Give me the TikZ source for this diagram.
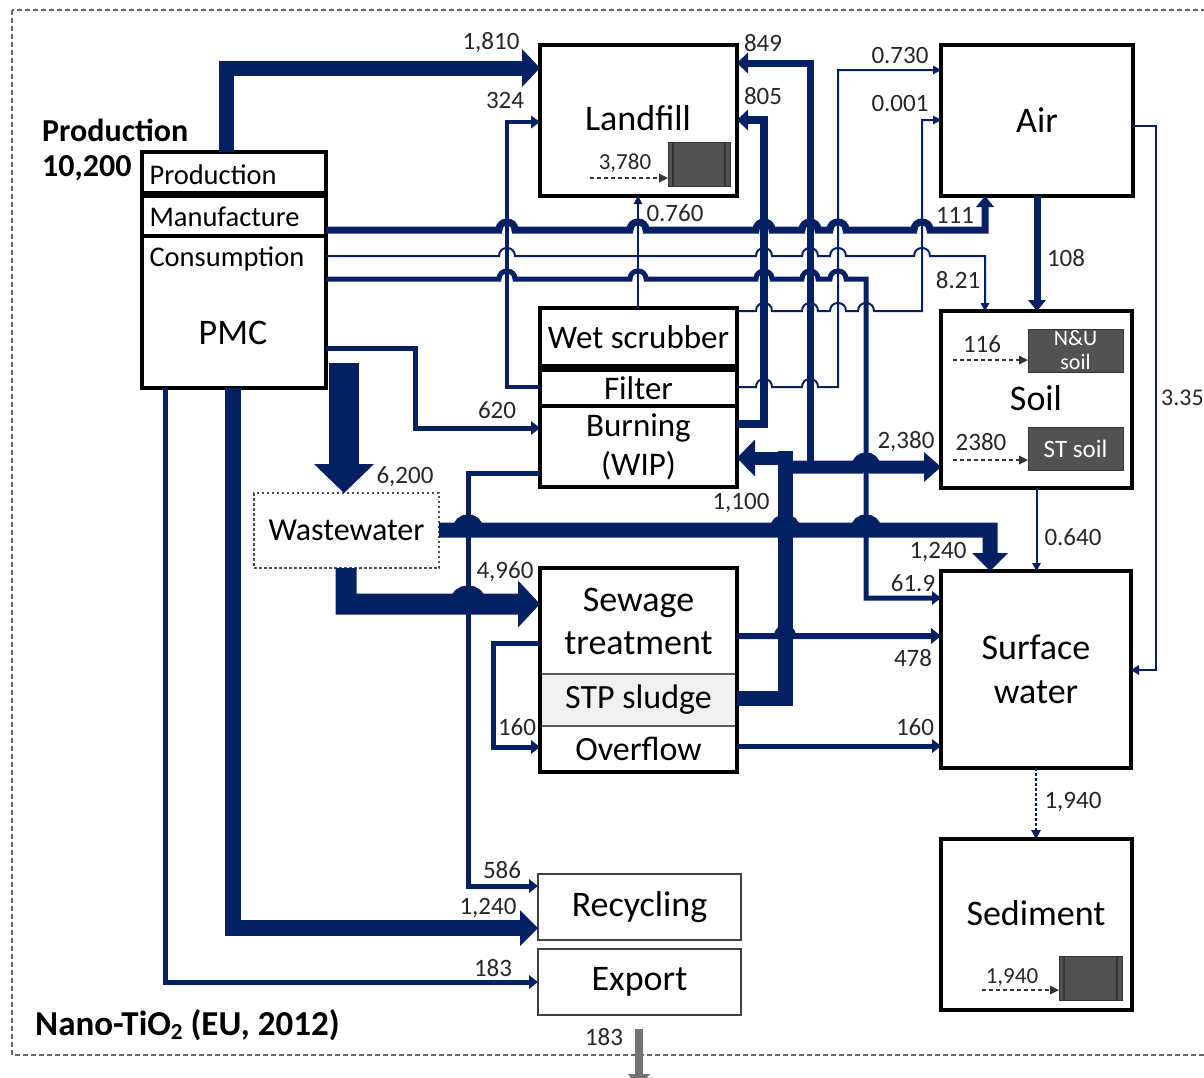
\documentclass[tikz,border=0pt]{standalone}
\usepackage{fontspec}
\setmainfont{Carlito}
\usetikzlibrary{arrows.meta}
\definecolor{flowc}{RGB}{6,33,99}
\begin{document}
\begin{tikzpicture}[x=1pt,y=-1pt,
  cbox/.style={draw=black, line width=4pt, fill=white, inner sep=0pt, outer sep=0pt, anchor=north west},
  tbox/.style={draw=black!75, line width=2pt, fill=white, inner sep=0pt, outer sep=0pt, anchor=north west},
  sbox/.style={draw=black!65, line width=1.5pt, inner sep=0pt, outer sep=0pt, anchor=north west, minimum width=197pt},
  big/.style={font=\fontsize{36}{44}\selectfont, align=center},
  mid/.style={font=\fontsize{33}{39}\selectfont, align=center},
  pmct/.style={font=\fontsize{28.5}{34}\selectfont, anchor=west},
  num/.style={font=\fontsize{25}{30}\selectfont, text=black!85, inner sep=0pt},
  flow/.style={draw=flowc, line width=#1},
  ah/.style 2 args={-{Triangle[width=#1pt,length=#2pt,line width=0pt]}},
  hop/.style 2 args={insert path={-- ({#1-8},#2) .. controls ({#1-8},{#2-10.7}) and ({#1+8},{#2-10.7}) .. ({#1+8},#2)}},
  darkbox/.style={draw=black!80, line width=1pt, fill=black!68, anchor=north west, inner sep=0pt, outer sep=0pt},
  inarrow/.style={draw=black!80, line width=1.5pt, dash pattern=on 4pt off 3pt, -{Triangle[width=9pt,length=9pt,line width=0pt]}},
  frame/.style={draw=black!60, line width=2pt, dash pattern=on 5pt off 3pt}
]
\useasboundingbox (0,0) rectangle (1204,1077);
\draw[frame] (12,10) rectangle (1260,1055);

% ---------- boxes ----------
\node[cbox, minimum width=197pt, minimum height=151pt] (landfill) at (540,45) {};
\node[big] (tlandfill) at (638,118) {Landfill};
\node[darkbox, minimum width=62pt, minimum height=44pt] (ldk) at (668,142) {};
\draw[black!80, line width=1.2pt] (673,142) -- (673,186) (725,142) -- (725,186);

\node[cbox, big, minimum width=192pt, minimum height=151pt] (air) at (941,45) {Air};
\node[cbox, minimum width=191pt, minimum height=177pt] (soil) at (941,311) {};
\node[big] (tsoil) at (1036,398) {Soil};
\node[darkbox, minimum width=95pt, minimum height=43pt, text=white, font=\fontsize{22}{24}\selectfont, align=center] (nu) at (1028,329) {N\&U\\soil};
\node[darkbox, minimum width=95pt, minimum height=43pt, text=white, font=\fontsize{25}{28}\selectfont] (st) at (1028,427) {ST soil};
\node[cbox, big, minimum width=190pt, minimum height=197pt] (sw) at (941,571) {Surface\\water};
\node[cbox, minimum width=191pt, minimum height=171pt] (sed) at (941,839) {};
\node[big] (tsed) at (1036,913) {Sediment};
\node[darkbox, minimum width=63pt, minimum height=44pt] (sdk) at (1059,956) {};
\draw[black!80, line width=1.2pt] (1064,956) -- (1064,1000) (1117,956) -- (1117,1000);

% PMC
\node[cbox, minimum width=184pt, minimum height=41pt] (prod) at (142,152) {};
\node[cbox, minimum width=184pt, minimum height=40pt] (manuf) at (142,196) {};
\node[cbox, minimum width=184pt, minimum height=152pt] (cons) at (142,236) {};
\node[pmct] (tprod) at (146,175) {Production};
\node[pmct] (tmanuf) at (146,217) {Manufacture};
\node[pmct] (tcons) at (146,259) {Consumption};
\node[big] (tpmc) at (233,333) {PMC};
\node[anchor=west, font=\bfseries\fontsize{32}{36}\selectfont, inner sep=0pt] (hprod) at (42,130) {Production};
\node[anchor=west, font=\bfseries\fontsize{32}{36}\selectfont, inner sep=0pt] (hval) at (42,168) {10,200};

% WIP
\node[cbox, mid, minimum width=197pt, minimum height=58pt] (wet) at (540,308) {Wet scrubber};
\node[cbox, mid, minimum width=197pt, minimum height=36pt] (filter) at (540,370) {Filter};
\node[cbox, mid, minimum width=197pt, minimum height=81pt] (burn) at (540,406) {Burning\\(WIP)};

% STP
\node[sbox, big, fill=white, minimum height=106pt, font=\fontsize{36}{43}\selectfont] (sew) at (540,568) {Sewage\\treatment};
\node[sbox, fill=black!6, minimum height=52pt, font=\fontsize{34}{40}\selectfont] (sludge) at (540,674) {STP sludge};
\node[sbox, fill=white, minimum height=46pt, font=\fontsize{34}{40}\selectfont] (overflow) at (540,726) {Overflow};
\draw[line width=4pt] (sew.north west) rectangle (overflow.south east);

% wastewater
\node[anchor=north west, draw=black!70, line width=2pt, dash pattern=on 2.5pt off 2.5pt, minimum width=185pt, minimum height=75pt, inner sep=0pt, outer sep=0pt, font=\fontsize{32}{38}\selectfont] (ww) at (254,493) {Wastewater};

% recycling / export
\node[tbox, big, minimum width=203pt, minimum height=66pt] (rec) at (538,874) {Recycling};
\node[tbox, big, minimum width=203pt, minimum height=66pt] (exp) at (538,949) {Export};

% ---------- inner dashed arrows ----------
\draw[inarrow] (590,178) -- (ldk.west |- 0,178);
\draw[inarrow] (953,360) -- (nu.west |- 0,360);
\draw[inarrow] (953,460) -- (st.west |- 0,460);
\draw[inarrow] (982,990) -- (sdk.west |- 0,990);

% ---------- flows ----------
\coordinate (w0) at (344,363);
\coordinate (j849) at (810,467);
\coordinate (j1100) at (792,458);
\coordinate (j2380) at (778,467);
\coordinate (eo) at (639,1029);
\coordinate (eoend) at (639,1088);

% 1,810
\draw[flow=15pt, ah={38}{18}] (prod.north -| 226,0) -- (226,68) -- (landfill.west |- 0,68);
% 324
\draw[flow=4pt, ah={13}{9}] (filter.west |- 0,387) -- (507,387) -- (507,122) -- (landfill.west |- 0,122);
% 0.760
\draw[flow=2pt, ah={9}{8}] (wet.north -| 638,0) -- (landfill.south -| 638,0);
% 805
\draw[flow=8pt, ah={21}{11}] (burn.east |- 0,424) -- (764,424) -- (764,120) -- (landfill.east |- 0,120);
% 849
\draw[flow=7pt, ah={21}{11}] (j849) -- (810,63) -- (landfill.east |- 0,63);
% 0.730
\draw[flow=2pt, ah={9}{8}] (filter.east |- 0,387) [hop={764}{387}] [hop={810}{387}] -- (838,387) -- (838,70) -- (air.west |- 0,70);
% 0.001
\draw[flow=2pt, ah={9}{8}] (wet.east |- 0,311) [hop={764}{311}] [hop={810}{311}] [hop={838}{311}] [hop={866}{311}] -- (922,311) -- (922,120) -- (air.west |- 0,120);
% 111
\draw[flow=7pt, ah={18}{11}] (manuf.east |- 0,230) [hop={507}{230}] [hop={638}{230}] [hop={764}{230}] [hop={810}{230}] [hop={838}{230}] [hop={922}{230}] -- (985,230) -- (air.south -| 985,0);
% 8.21
\draw[flow=2pt, ah={9}{8}] (cons.east |- 0,256) [hop={507}{256}] [hop={764}{256}] [hop={810}{256}] [hop={838}{256}] [hop={922}{256}] -- (985,256) -- (soil.north -| 985,0);
% 61.9
\draw[flow=5pt, ah={14}{9}] (cons.east |- 0,279) [hop={507}{279}] [hop={638}{279}] [hop={764}{279}] [hop={810}{279}] [hop={838}{279}] -- (866,279) -- (866,598) -- (sw.west |- 0,598);
% 620
\draw[flow=5pt, ah={14}{9}] (cons.east |- 0,348) -- (415,348) -- (415,428) -- (burn.west |- 0,428);
% 6,200
\draw[flow=30pt, ah={60}{29}] (w0) -- (ww.north -| 344,0);
% 4,960
\draw[flow=21pt, ah={47}{22}] (ww.south -| 346,0) -- (346,604) [hop={468}{604}] -- (sew.west |- 0,604);
% 1,240 to surface water
\draw[flow=15pt, ah={36}{18}] (ww.east |- 0,530) [hop={468}{530}] [hop={785}{530}] [hop={866}{530}] -- (990,530) -- (sw.north -| 990,0);
% 586
\draw[flow=5pt, ah={14}{9}] (burn.west |- 0,473) -- (468,473) -- (468,886) -- (rec.west |- 0,886);
% 1,240 to recycling
\draw[flow=16pt, ah={36}{18}] (cons.south -| 233,0) -- (233,928) -- (rec.west |- 0,928);
% 183
\draw[flow=5pt, ah={14}{9}] (cons.south -| 165,0) -- (165,982) -- (exp.west |- 0,982);
% 478
\draw[flow=6pt, ah={16}{10}] (sew.east |- 0,636) [hop={785}{636}] -- (sw.west |- 0,636);
% 160 loop
\draw[flow=5pt, ah={14}{9}] (sew.west |- 0,643) -- (493,643) -- (493,747) -- (overflow.west |- 0,747);
% 160 to surface water
\draw[flow=5pt, ah={14}{9}] (overflow.east |- 0,746) -- (sw.west |- 0,746);
% sludge trunk
\draw[flow=15pt] (sludge.east |- 0,698) -- (785,698) -- (785,451);
% 1,100
\draw[flow=13pt, ah={37}{18}] (j1100) -- (burn.east |- 0,458);
% 2,380
\draw[flow=13pt, ah={30}{17}] (j2380) [hop={866}{467}] -- (soil.west |- 0,467);
% 108
\draw[flow=7pt, ah={18}{11}] (air.south) -- (air.south |- soil.north);
% 3.35
\draw[flow=2pt, ah={10}{8}] (air.east |- 0,126) -- (1156,126) -- (1156,670) -- (sw.east |- 0,670);
% 0.640
\draw[flow=2pt, ah={9}{8}] (soil.south) -- (soil.south |- sw.north);
% 1,940
\draw[flow=2pt, dash pattern=on 3pt off 2pt, ah={10}{9}] (sw.south) -- (sw.south |- sed.north);
% export out
\draw[line width=8pt, draw=black!55, -{Triangle[width=22pt,length=14pt,line width=0pt]}] (eo) -- (eoend);

% ---------- labels ----------
\node[num] (n1810) at (491,43) {1,810};
\node[num] (n324) at (505,100) {324};
\node[num] (n849) at (763,43) {849};
\node[num] (n805) at (763,96) {805};
\node[num] (n0730) at (900,55) {0.730};
\node[num] (n0001) at (900,103) {0.001};
\node[num] (n0760) at (675,213) {0.760};
\node[num] (n111) at (955,215) {111};
\node[num] (n108) at (1066,258) {108};
\node[num] (n821) at (958,280) {8.21};
\node[num, anchor=west, font=\fontsize{24}{28}\selectfont] (n335) at (1161,398) {3.35};
\node[num] (n116) at (982,344) {116};
\node[num] (n2380b) at (981,442) {2380};
\node[num] (n2380) at (906,442) {2,380};
\node[num] (n620) at (497,410) {620};
\node[num] (n6200) at (405,477) {6,200};
\node[num] (n1100) at (741,503) {1,100};
\node[num] (n1240a) at (938,552) {1,240};
\node[num] (n0640) at (1073,537) {0.640};
\node[num] (n4960) at (505,572) {4,960};
\node[num] (n619) at (913,583) {61.9};
\node[num] (n478) at (913,658) {478};
\node[num] (n160a) at (517,727) {160};
\node[num] (n160b) at (915,727) {160};
\node[num] (n1940a) at (1073,802) {1,940};
\node[num] (n586) at (502,870) {586};
\node[num] (n1240b) at (488,908) {1,240};
\node[num] (n183a) at (493,968) {183};
\node[num] (n183b) at (604,1037) {183};
\node[num, font=\fontsize{23}{26}\selectfont] (n3780) at (625,163) {3,780};
\node[num, font=\fontsize{23}{26}\selectfont] (n1940b) at (1012,977) {1,940};
\node[anchor=west, font=\bfseries\fontsize{35}{40}\selectfont, inner sep=0pt] (title) at (35,1025) {Nano-TiO\raisebox{-0.25ex}{\fontsize{23}{23}\selectfont 2} (EU, 2012)};
\end{tikzpicture}
\end{document}
